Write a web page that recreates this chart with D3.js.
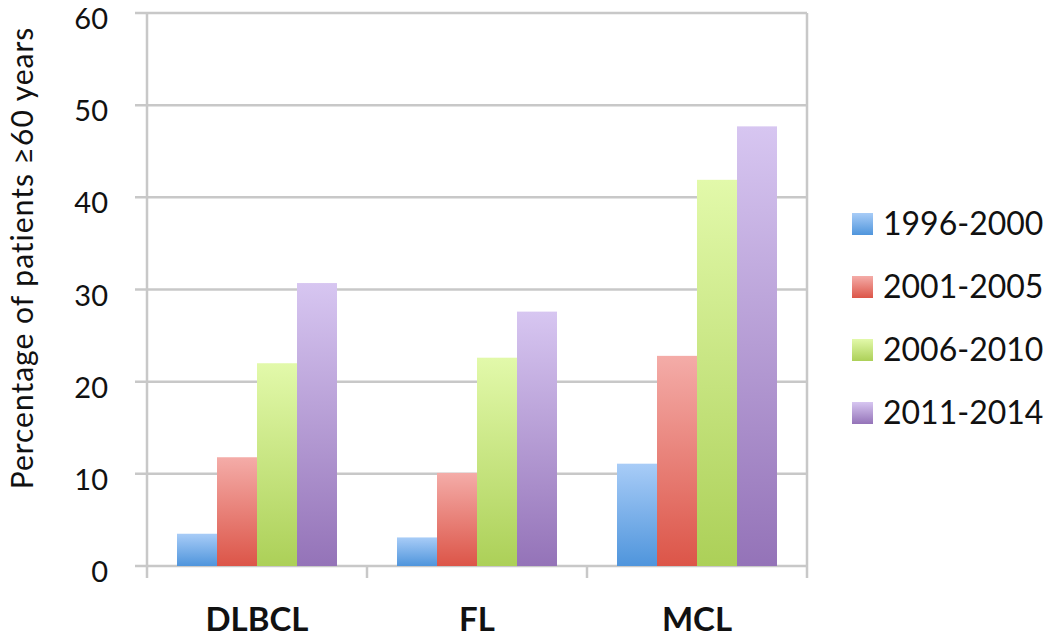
<!DOCTYPE html>
<html>
<head>
<meta charset="utf-8">
<script src="https://cdn.jsdelivr.net/npm/d3@7"></script>
<style>
  body { margin: 0; background: #fff; }
  svg { display: block; font-family: Lato, "Open Sans", sans-serif; }
</style>
</head>
<body>
<svg class="chart" width="1050" height="638"></svg>
<script>
var categories = ["DLBCL", "FL", "MCL"]
var periods = ["1996-2000", "2001-2005", "2006-2010", "2011-2014"]
var yTicks = [0, 10, 20, 30, 40, 50, 60]

// percentage of patients >=60 years, one array per period (DLBCL, FL, MCL)
var v1996 = [3.5, 3.1, 11.1]
var v2001 = [11.8, 10.1, 22.8]
var v2006 = [22.0, 22.6, 41.9]
var v2011 = [30.7, 27.6, 47.7]

var series = [v1996, v2001, v2006, v2011]
var gradTop = ["#a8ccf7", "#f4aca8", "#e2f9aa", "#d7c6f1"]
var gradBot = ["#4f95dc", "#dc5548", "#acd058", "#9473b8"]

var svg = d3.select("svg.chart")
var m = {left: 147, right: 807, top: 13, bottom: 566}
var gridColor = "#c8c8c8"

var x0 = d3.scaleBand().domain(categories).range([m.left, m.right])
var x1 = d3.scaleBand().domain(periods).range([30, x0.bandwidth() - 30])
var y = d3.scaleLinear().domain([0, 60]).range([m.bottom, m.top])

var defs = svg.append("defs")
periods.forEach(function(p, i) {
  var g = defs.append("linearGradient").attr("id", "g" + i)
    .attr("x1", 0).attr("y1", 0).attr("x2", 0).attr("y2", 1)
  g.append("stop").attr("offset", "0%").attr("stop-color", gradTop[i])
  g.append("stop").attr("offset", "100%").attr("stop-color", gradBot[i])
})

// gridlines
svg.append("g").selectAll("line").data(yTicks).enter().append("line")
  .attr("x1", m.left - 12).attr("x2", m.right)
  .attr("y1", function(d) { return y(d) }).attr("y2", function(d) { return y(d) })
  .attr("stroke", gridColor).attr("stroke-width", 2.5)

// left axis + right border
svg.append("line").attr("x1", m.left).attr("x2", m.left).attr("y1", m.top).attr("y2", m.bottom + 12)
  .attr("stroke", gridColor).attr("stroke-width", 2.5)
svg.append("line").attr("x1", m.right).attr("x2", m.right).attr("y1", m.top).attr("y2", m.bottom + 12)
  .attr("stroke", gridColor).attr("stroke-width", 2.5)

// category boundary ticks
svg.append("g").selectAll("line").data(categories.slice(1)).enter().append("line")
  .attr("x1", function(d) { return x0(d) }).attr("x2", function(d) { return x0(d) })
  .attr("y1", m.bottom).attr("y2", m.bottom + 12)
  .attr("stroke", gridColor).attr("stroke-width", 2.5)

// bars
var groups = svg.append("g").selectAll("g").data(categories).enter().append("g")
  .attr("transform", function(d) { return "translate(" + x0(d) + ",0)" })

groups.selectAll("rect")
  .data(function(c, ci) { return periods.map(function(p, pi) { return {p: p, i: pi, v: series[pi][ci]} }) })
  .enter().append("rect")
  .attr("x", function(d) { return x1(d.p) })
  .attr("width", x1.bandwidth())
  .attr("y", function(d) { return y(d.v) })
  .attr("height", function(d) { return y(0) - y(d.v) })
  .attr("fill", function(d) { return "url(#g" + d.i + ")" })

// y tick labels (they sit a little below their gridline in the original)
svg.append("g").selectAll("text").data(yTicks).enter().append("text")
  .attr("x", 108).attr("y", function(d) { return y(d) + 16 })
  .attr("text-anchor", "end").attr("font-size", 29).attr("fill", "#111")
  .text(function(d) { return d })

// category labels
svg.append("g").selectAll("text").data(categories).enter().append("text")
  .attr("x", function(d) { return x0(d) + x0.bandwidth() / 2 })
  .attr("y", 631)
  .attr("text-anchor", "middle").attr("font-size", 33).attr("font-weight", "bold").attr("fill", "#111")
  .text(function(d) { return d })

// y title
svg.append("text")
  .attr("transform", "translate(33,258) rotate(-90)")
  .attr("text-anchor", "middle").attr("font-size", 30).attr("letter-spacing", 1).attr("fill", "#111")
  .text("Percentage of patients \u226560 years")

// legend
var leg = svg.append("g").selectAll("g").data(periods).enter().append("g")
  .attr("transform", function(d, i) { return "translate(852," + (213 + i * 63) + ")" })
leg.append("rect").attr("width", 21).attr("height", 22)
  .attr("fill", function(d, i) { return "url(#g" + i + ")" })
leg.append("text").attr("x", 31).attr("y", 22)
  .attr("font-size", 32).attr("fill", "#111")
  .text(function(d) { return d })
</script>
</body>
</html>
